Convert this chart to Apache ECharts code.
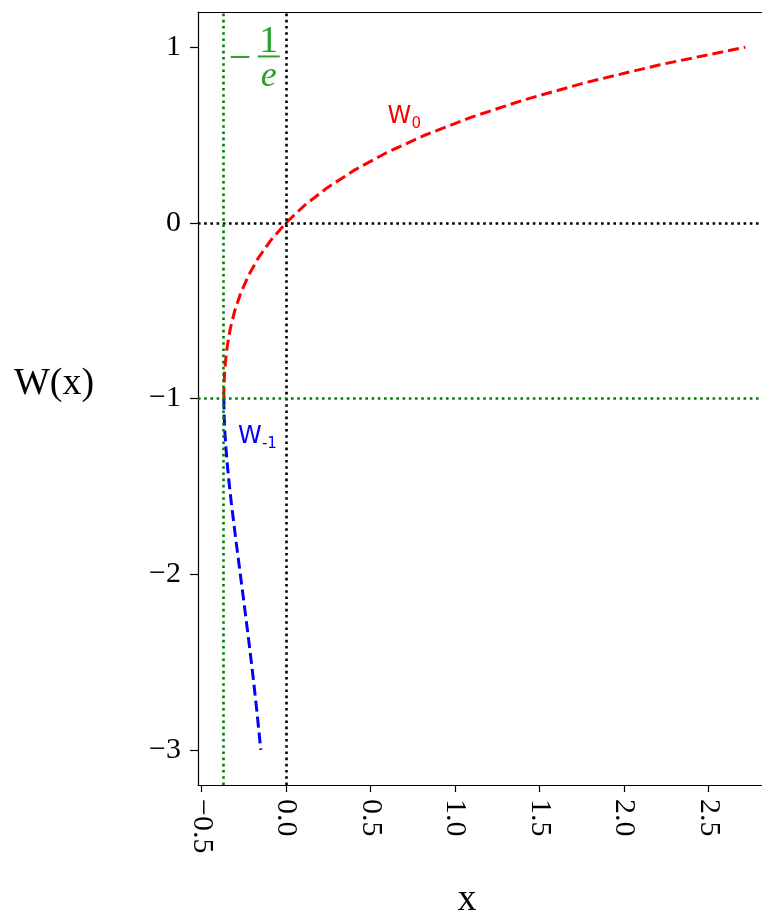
<!DOCTYPE html>
<html>
<head>
<meta charset="utf-8">
<title>Lambert W</title>
<script src="https://cdn.jsdelivr.net/npm/echarts@6/dist/echarts.min.js"></script>
<style>
  html, body { margin: 0; padding: 0; background: #fff; }
  #chart { width: 762px; height: 915px; }
</style>
</head>
<body>
<div id="chart"></div>
<script>
// principal branch W0 (red)
const w0X = [-0.3679, -0.3678, -0.3674, -0.3659, -0.3633, -0.3595, -0.3476, -0.3293, -0.3033, -0.2681,
  -0.2223, -0.1638, -0.0905, 0, 0.1105, 0.2443, 0.4050, 0.5967, 0.8244, 1.0933, 1.4096, 1.7804, 2.2136, 2.7183]
const w0Y = [-1, -0.98, -0.95, -0.9, -0.85, -0.8, -0.7, -0.6, -0.5, -0.4,
  -0.3, -0.2, -0.1, 0, 0.1, 0.2, 0.3, 0.4, 0.5, 0.6, 0.7, 0.8, 0.9, 1.0]

// lower branch W-1 (blue)
const wm1X = [-0.3679, -0.3674, -0.3662, -0.3614, -0.3543, -0.3452, -0.3347, -0.3230, -0.2975, -0.2707,
  -0.2438, -0.2177, -0.1931, -0.1703, -0.1494]
const wm1Y = [-1, -1.05, -1.1, -1.2, -1.3, -1.4, -1.5, -1.6, -1.8, -2.0,
  -2.2, -2.4, -2.6, -2.8, -3.0]

const xTicks = [-0.5, 0, 0.5, 1, 1.5, 2, 2.5]
const yTicks = [-3, -2, -1, 0, 1]
const branchX = -0.3679 // -1/e
const branchY = -1

// visible x range (the plot runs off the right edge of the picture)
const xMin = -0.521
const xMax = 2.817

const MINUS = '\u2212'
const serif = 'Liberation Serif'

const chart = echarts.init(document.getElementById('chart'))

function pairs(xs, ys) {
  return xs.map((x, i) => [x, ys[i]])
}

const dotted = color => ({ color: color, width: 2.6, type: [2.6, 3.6] })
const dashed = color => ({ color: color, width: 3, type: [11, 5] })

chart.setOption({
  animation: false,
  backgroundColor: '#fff',
  grid: {
    left: 198,
    right: 0,
    top: 12,
    bottom: 130
  },
  xAxis: [
    {
      type: 'value',
      min: xMin,
      max: xMax,
      axisLine: { show: true, onZero: false, lineStyle: { color: '#000', width: 1.2 } },
      axisTick: { show: true, length: 7, customValues: xTicks, lineStyle: { color: '#000', width: 1.2 } },
      axisLabel: {
        customValues: xTicks,
        rotate: -90,
        margin: 14,
        color: '#000',
        fontFamily: serif,
        fontSize: 30,
        formatter: v => (v < 0 ? MINUS : '') + Math.abs(v).toFixed(1)
      },
      splitLine: { show: false }
    },
    {
      // top frame line only
      type: 'value',
      position: 'top',
      min: xMin,
      max: xMax,
      axisLine: { show: true, onZero: false, lineStyle: { color: '#000', width: 1.2 } },
      axisTick: { show: false },
      axisLabel: { show: false },
      splitLine: { show: false }
    }
  ],
  yAxis: {
    type: 'value',
    min: -3.2,
    max: 1.2,
    axisLine: { show: true, onZero: false, lineStyle: { color: '#000', width: 1.2 } },
    axisTick: { show: true, length: 8, customValues: yTicks, lineStyle: { color: '#000', width: 1.2 } },
    axisLabel: {
      customValues: yTicks,
      margin: 17,
      color: '#000',
      fontFamily: serif,
      fontSize: 30,
      formatter: v => (v < 0 ? MINUS : '') + Math.abs(v)
    },
    splitLine: { show: false }
  },
  series: [
    {
      name: 'W0',
      type: 'line',
      data: pairs(w0X, w0Y),
      showSymbol: false,
      lineStyle: dashed('#ff0000')
    },
    {
      name: 'W-1',
      type: 'line',
      data: pairs(wm1X, wm1Y),
      showSymbol: false,
      lineStyle: dashed('#0000ff')
    },
    {
      name: 'guides',
      type: 'line',
      data: [],
      z: 5,
      markLine: {
        silent: true,
        symbol: 'none',
        label: { show: false },
        data: [
          { xAxis: 0, lineStyle: dotted('#000') },
          { yAxis: 0, lineStyle: dotted('#000') },
          { xAxis: branchX, lineStyle: dotted('#008000') },
          { yAxis: branchY, lineStyle: dotted('#008000') }
        ]
      }
    }
  ]
})

// annotations placed at data coordinates
const toPx = (x, y) => chart.convertToPixel({ gridIndex: 0 }, [x, y])
const fracAt = toPx(-0.333, 0.947)
const w0At = toPx(0.6, 0.55)
const wm1At = toPx(-0.285, -1.27)

function branchLabel(pos, sub, color) {
  return {
    type: 'group',
    x: pos[0],
    y: pos[1],
    children: [
      { type: 'text', x: 0, y: -9, style: { text: 'W', fill: color, font: '24px "DejaVu Sans"', align: 'left', verticalAlign: 'middle' } },
      { type: 'text', x: 24, y: -2, style: { text: sub, fill: color, font: '15px "DejaVu Sans"', align: 'left', verticalAlign: 'middle' } }
    ]
  }
}

chart.setOption({
  graphic: [
    {
      type: 'group',
      x: fracAt[0],
      y: fracAt[1],
      children: [
        { type: 'text', x: -1, y: 3, style: { text: MINUS, fill: '#2ca02c', font: '40px "Liberation Serif"', align: 'left', verticalAlign: 'middle' } },
        { type: 'text', x: 39, y: -14, style: { text: '1', fill: '#2ca02c', font: '38px "Liberation Serif"', align: 'center', verticalAlign: 'middle' } },
        { type: 'rect', shape: { x: 28, y: -1, width: 22, height: 2 }, style: { fill: '#2ca02c' } },
        { type: 'text', x: 39, y: 20, style: { text: 'e', fill: '#2ca02c', font: 'italic 36px "Liberation Serif"', align: 'center', verticalAlign: 'middle' } }
      ]
    },
    branchLabel(w0At, '0', '#ff0000'),
    branchLabel(wm1At, '-1', '#0000ff'),
    {
      type: 'text',
      x: 54,
      y: 384,
      style: { text: 'W(x)', fill: '#000', font: '38px "Liberation Serif"', align: 'center', verticalAlign: 'middle' }
    },
    {
      type: 'text',
      x: 467,
      y: 900,
      style: { text: 'x', fill: '#000', font: '38px "Liberation Serif"', align: 'center', verticalAlign: 'middle' }
    }
  ]
})

window.addEventListener('resize', () => {
  chart.resize()
})
</script>
</body>
</html>
